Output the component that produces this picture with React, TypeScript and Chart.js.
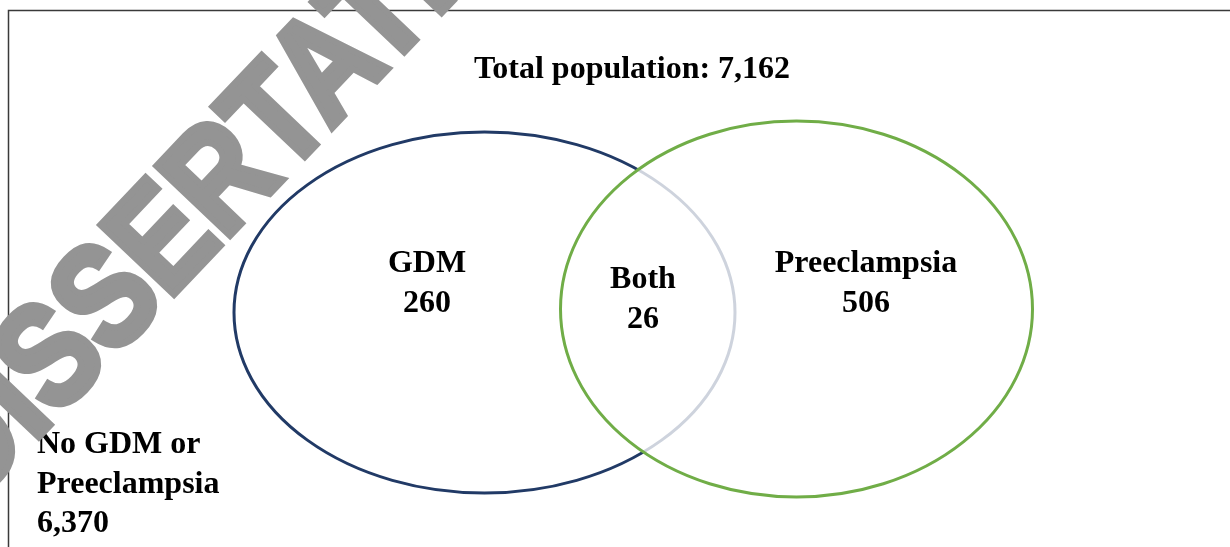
import React, { useEffect, useRef } from "react";
import { Chart, registerables } from "chart.js";

Chart.register(...registerables);

// ---- data ----
const setNames = ["GDM", "Preeclampsia"];
const regionNames = ["GDM", "Both", "Preeclampsia"];
const regionCounts = [260, 26, 506];
const outsideLabel = ["No GDM or", "Preeclampsia"];
const outsideCount = 6370;
const totalPopulation = 7162;
const watermarkText = "DISSERTATION";

// ---- layout (pixel-like data units on a 0..1230 x 0..547 scale) ----
const layout = {
  ellipses: [
    { cx: 484.5, cy: 312.5, rx: 250.5, ry: 180.5, color: "#213a66", fill: null as string | null },
    { cx: 796.5, cy: 309, rx: 236, ry: 188, color: "#70ad47", fill: "rgba(255,255,255,0.78)" },
  ],
  regionAnchors: [
    { x: 427, y: 272 },
    { x: 643, y: 288 },
    { x: 866, y: 272 },
  ],
  totalAnchor: { x: 632, y: 78 },
  outsideAnchor: { x: 37, y: 453 },
  lineGap: 39.5,
  watermark: { x: -28, y: 507, angle: (-46.5 * Math.PI) / 180, size: 122, stretch: 1.2, weight: 6 },
};

const FONT = '"Liberation Serif", "Times New Roman", serif';
const fmt = (n: number) => n.toLocaleString("en-US");

const vennPlugin = {
  id: "venn",
  afterDatasetsDraw(chart: any) {
    const ctx = chart.ctx as CanvasRenderingContext2D;
    const xs = chart.scales.x;
    const ys = chart.scales.y;
    const px = (v: number) => xs.getPixelForValue(v);
    const py = (v: number) => ys.getPixelForValue(v);
    const sx = (v: number) => Math.abs(xs.getPixelForValue(v) - xs.getPixelForValue(0));
    const sy = (v: number) => Math.abs(ys.getPixelForValue(v) - ys.getPixelForValue(0));

    ctx.save();
    // frame
    ctx.strokeStyle = "#3a3a3a";
    ctx.lineWidth = 1.5;
    ctx.beginPath();
    ctx.moveTo(px(8.5), py(547));
    ctx.lineTo(px(8.5), py(10.5));
    ctx.lineTo(px(1230), py(10.5));
    ctx.stroke();

    // ellipses
    layout.ellipses.forEach((e) => {
      ctx.beginPath();
      ctx.ellipse(px(e.cx), py(e.cy), sx(e.rx), sy(e.ry), 0, 0, Math.PI * 2);
      if (e.fill) {
        ctx.fillStyle = e.fill;
        ctx.fill();
      }
      ctx.strokeStyle = e.color;
      ctx.lineWidth = 3;
      ctx.stroke();
    });

    // texts
    ctx.fillStyle = "#000";
    ctx.font = `bold 32px ${FONT}`;
    ctx.textBaseline = "alphabetic";
    ctx.textAlign = "center";
    ctx.fillText(`Total population: ${fmt(totalPopulation)}`, px(layout.totalAnchor.x), py(layout.totalAnchor.y));

    regionNames.forEach((name, i) => {
      const a = layout.regionAnchors[i];
      ctx.fillText(name, px(a.x), py(a.y));
      ctx.fillText(fmt(regionCounts[i]), px(a.x), py(a.y + layout.lineGap));
    });

    ctx.textAlign = "left";
    const outsideLines = [...outsideLabel, fmt(outsideCount)];
    outsideLines.forEach((t, i) => {
      ctx.fillText(t, px(layout.outsideAnchor.x), py(layout.outsideAnchor.y + i * layout.lineGap));
    });

    // watermark
    const w = layout.watermark;
    ctx.translate(px(w.x), py(w.y));
    ctx.rotate(w.angle);
    ctx.scale(1, w.stretch);
    ctx.fillStyle = "#949494";
    ctx.strokeStyle = "#949494";
    ctx.lineWidth = w.weight;
    ctx.lineJoin = "miter";
    ctx.font = `bold ${w.size}px "Liberation Sans", Arial, sans-serif`;
    ctx.textAlign = "left";
    ctx.fillText(watermarkText, 0, 0);
    ctx.strokeText(watermarkText, 0, 0);
    ctx.restore();
  },
};

export default function App() {
  const ref = useRef<HTMLCanvasElement>(null);
  useEffect(() => {
    if (!ref.current) return;
    const chart = new Chart(ref.current, {
      type: "scatter",
      data: {
        datasets: [
          {
            label: setNames.join(" / "),
            data: layout.regionAnchors.map((a) => ({ x: a.x, y: a.y })),
            pointRadius: 0,
            showLine: false,
          },
        ],
      },
      options: {
        responsive: false,
        animation: false,
        devicePixelRatio: 1,
        layout: { padding: 0 },
        plugins: { legend: { display: false }, tooltip: { enabled: false } },
        scales: {
          x: { type: "linear", min: 0, max: 1230, display: false },
          y: { type: "linear", min: 0, max: 547, reverse: true, display: false },
        },
      },
      plugins: [vennPlugin],
    });
    return () => chart.destroy();
  }, []);
  return (
    <div style={{ position: "absolute", left: 0, top: 0, width: 1230, height: 547, background: "#fff" }}>
      <canvas ref={ref} width={1230} height={547} />
    </div>
  );
}
